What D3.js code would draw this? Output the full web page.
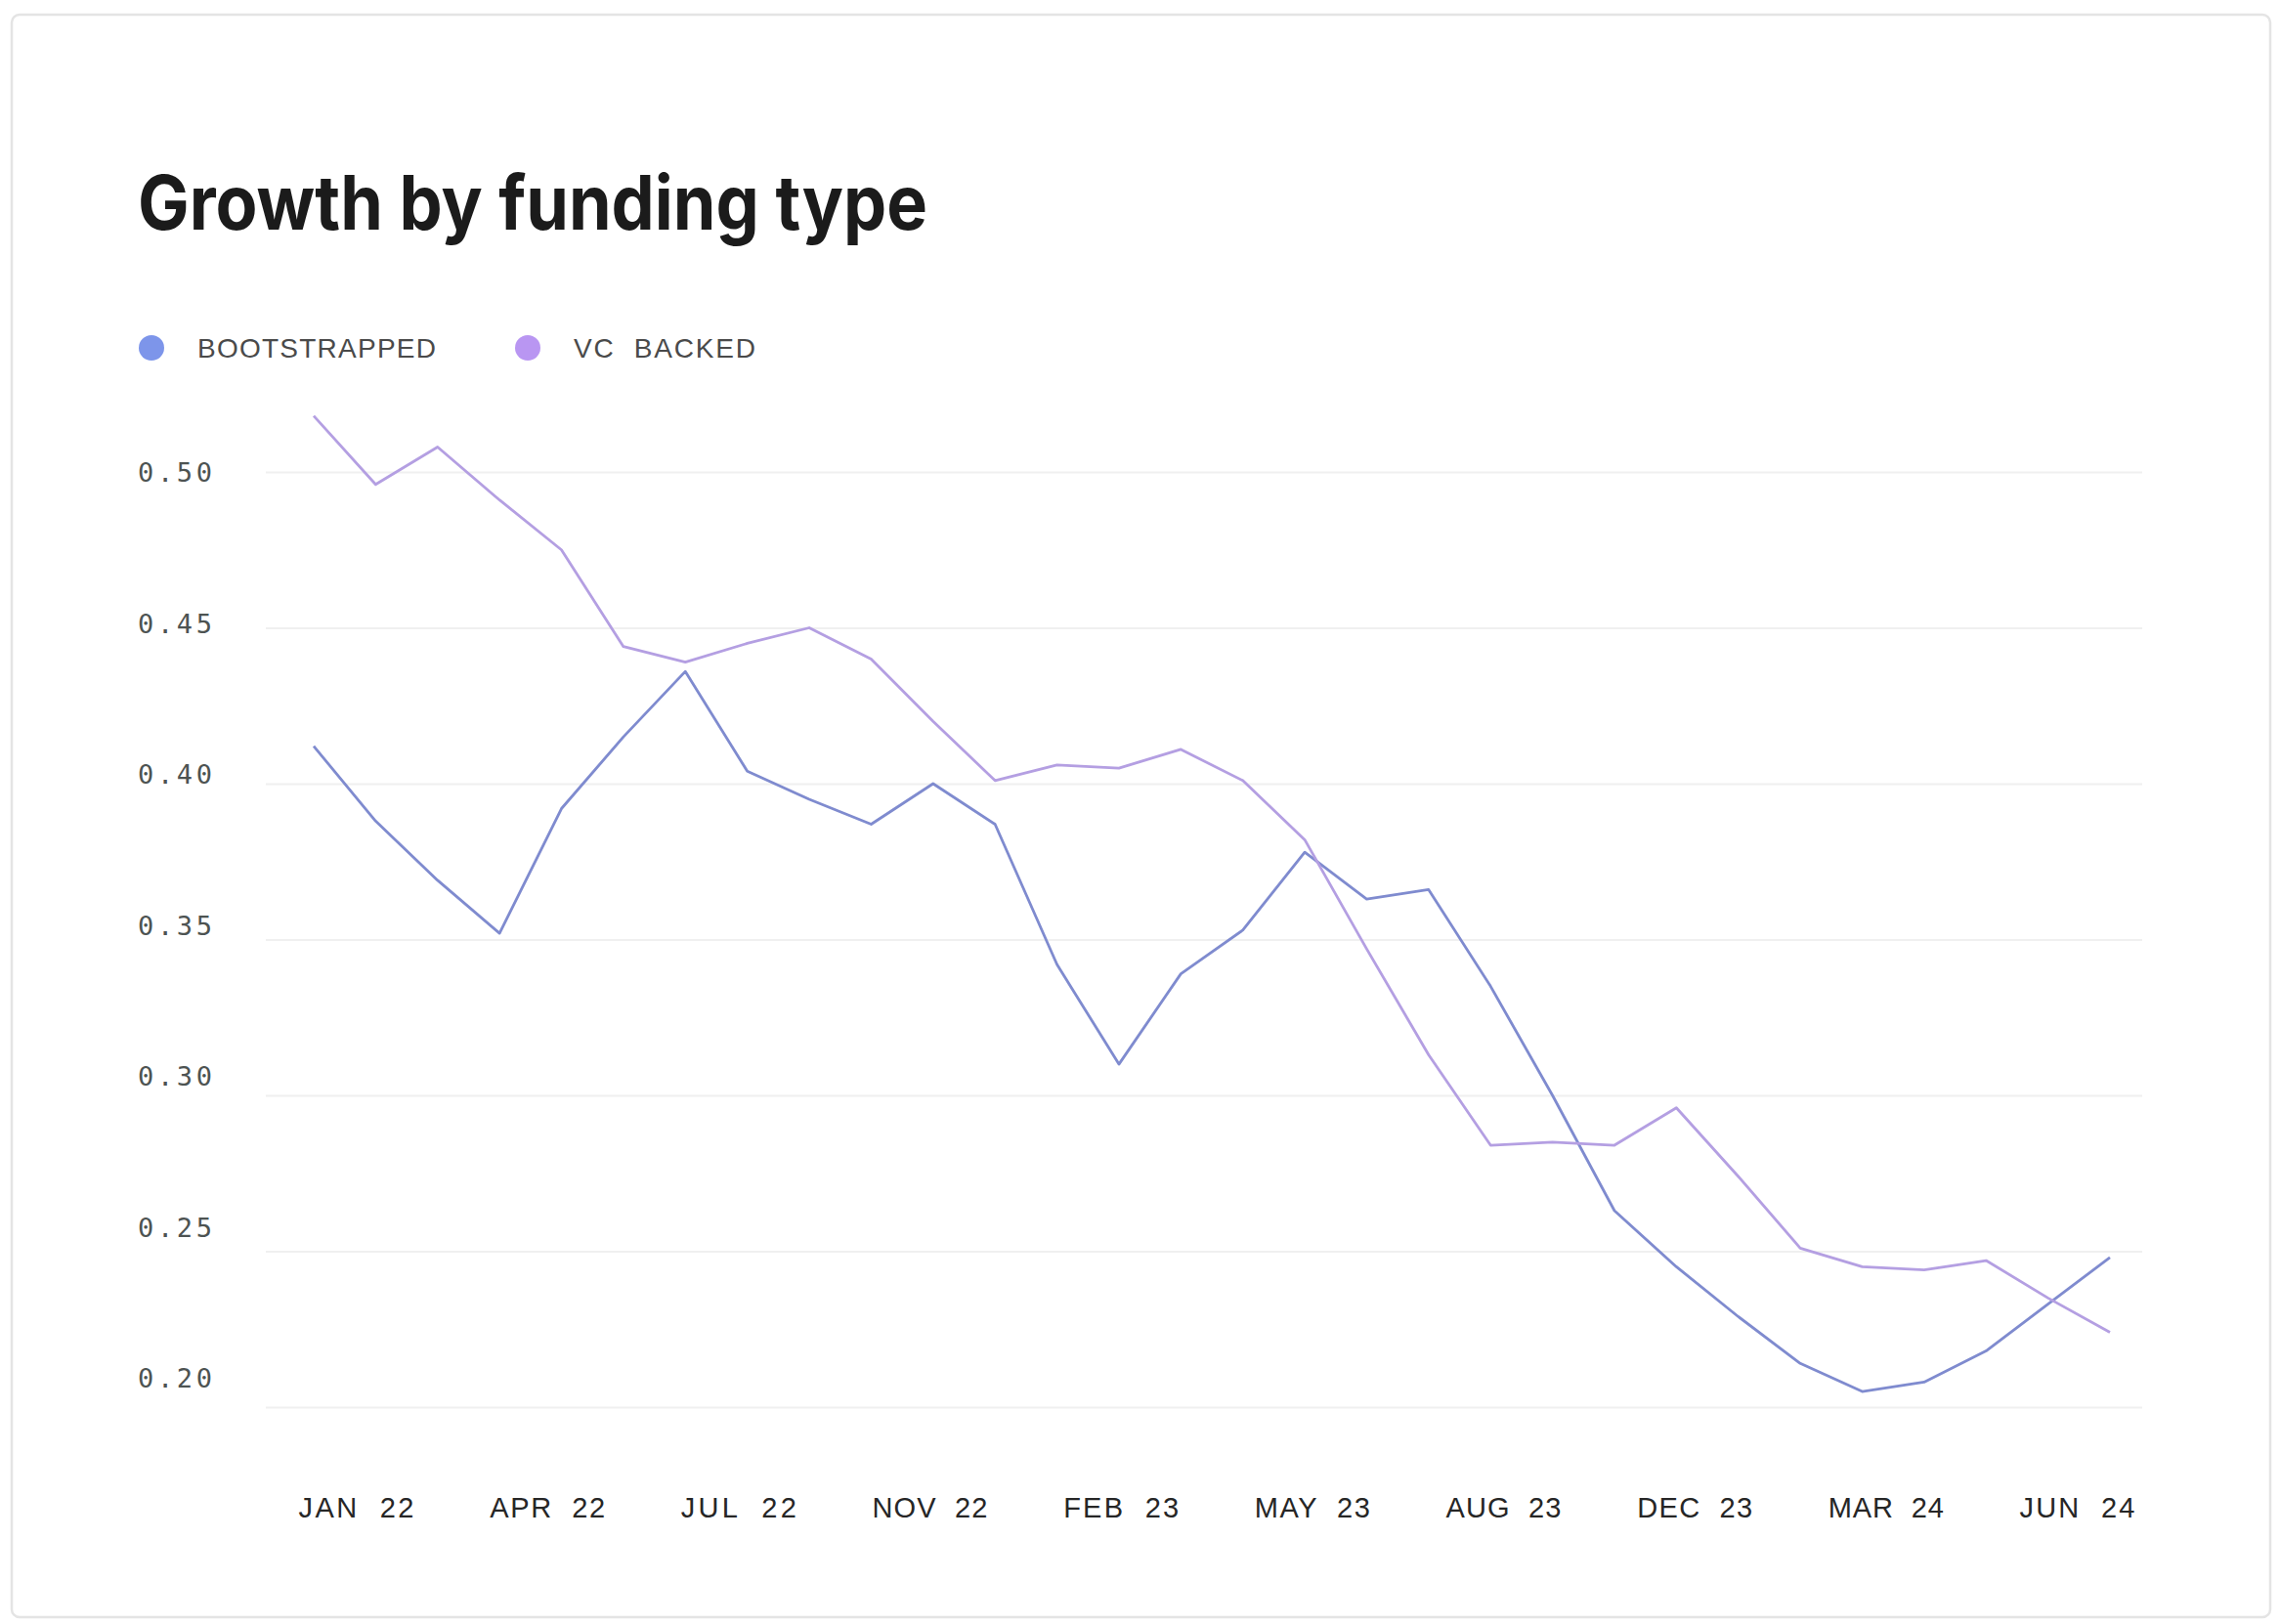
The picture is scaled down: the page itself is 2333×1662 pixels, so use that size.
<!DOCTYPE html>
<html>
<head>
<meta charset="utf-8">
<script src="https://cdn.jsdelivr.net/npm/d3@7/dist/d3.min.js"></script>
<style>
  html, body { margin: 0; padding: 0; background: #ffffff; }
  svg { display: block; }
</style>
</head>
<body>
<svg id="chart" width="2333" height="1662"></svg>
<script>
// ---- data ----
const months = [
  "Jan 22","Feb 22","Mar 22","Apr 22","May 22","Jun 22","Jul 22","Aug 22","Sep 22","Oct 22","Nov 22","Dec 22",
  "Jan 23","Feb 23","Mar 23","Apr 23","May 23","Jun 23","Jul 23","Aug 23","Sep 23","Oct 23","Nov 23","Dec 23",
  "Jan 24","Feb 24","Mar 24","Apr 24","May 24","Jun 24"
];
const bootstrapped = [
  0.412, 0.388, 0.369, 0.352, 0.392, 0.415, 0.436, 0.404, 0.395, 0.387, 0.400, 0.387,
  0.342, 0.310, 0.339, 0.353, 0.378, 0.363, 0.366, 0.335, 0.300, 0.263, 0.245, 0.229,
  0.214, 0.205, 0.208, 0.218, 0.233, 0.248
];
const vcBacked = [
  0.518, 0.496, 0.508, 0.491, 0.475, 0.444, 0.439, 0.445, 0.450, 0.440, 0.420, 0.401,
  0.406, 0.405, 0.411, 0.401, 0.382, 0.347, 0.313, 0.284, 0.285, 0.284, 0.296, 0.274,
  0.251, 0.245, 0.244, 0.247, 0.235, 0.224
];
const xTickLabels = ["JAN  22","APR  22","JUL  22","NOV  22","FEB  23","MAY  23","AUG  23","DEC  23","MAR  24","JUN  24"];
const yTicks = [0.20, 0.25, 0.30, 0.35, 0.40, 0.45, 0.50];
const seriesNames = ["BOOTSTRAPPED", "VC  BACKED"];
const title = "Growth by funding type";

// ---- drawing ----
const svg = d3.select("#chart");
const mono = "'DejaVu Sans Mono', 'Liberation Mono', monospace";
const sans = "'Liberation Sans', Arial, sans-serif";

// card
svg.append("rect")
  .attr("x", 12).attr("y", 15).attr("width", 2311).attr("height", 1640)
  .attr("rx", 8).attr("fill", "#ffffff")
  .attr("stroke", "#e4e4e4").attr("stroke-width", 2.5);

// title
svg.append("text")
  .attr("x", 141).attr("y", 235)
  .attr("font-family", "Inter, 'Noto Sans', sans-serif")
  .attr("font-weight", 700)
  .attr("font-size", 77)
  .attr("fill", "#1b1b1b")
  .attr("textLength", 808)
  .attr("lengthAdjust", "spacingAndGlyphs")
  .text(title);

// scales
const gridLeft = 272, gridRight = 2192;
const x = d3.scalePoint().domain(months).range([321, 2159]);
const y = d3.scaleLinear().domain([0.20, 0.50]).range([1440, 483]);
const yLabel = d3.scaleLinear().domain([0.20, 0.50]).range([1411, 484]);
const xLabel = d3.scalePoint().domain(xTickLabels).range([364, 2125]);
const color = d3.scaleOrdinal().domain(seriesNames).range(["#7f8bcf", "#b49fe2"]);
const dotColor = d3.scaleOrdinal().domain(seriesNames).range(["#7d95ea", "#b996f2"]);

// grid
const grid = svg.append("g")
  .attr("transform", `translate(${gridLeft},0)`)
  .call(d3.axisLeft(y).tickValues(yTicks).tickSize(-(gridRight - gridLeft)).tickFormat(""));
grid.select(".domain").remove();
grid.selectAll("line").attr("stroke", "#f0f0f0").attr("stroke-width", 2);

// y labels
const yAx = svg.append("g")
  .attr("transform", "translate(217,0)")
  .call(d3.axisLeft(yLabel).tickValues(yTicks).tickSize(0).tickPadding(0).tickFormat(d3.format(".2f")));
yAx.select(".domain").remove();
yAx.selectAll("text")
  .attr("font-family", mono)
  .attr("font-size", 27)
  .attr("fill", "#4d5352")
  .attr("text-anchor", "start")
  .attr("x", -76)
  .attr("textLength", 76)
  .attr("lengthAdjust", "spacing");

// x labels
const xAx = svg.append("g")
  .attr("transform", "translate(0,1532)")
  .call(d3.axisBottom(xLabel).tickSize(0).tickPadding(0));
xAx.select(".domain").remove();
xAx.selectAll("text")
  .attr("font-family", sans)
  .attr("font-size", 29)
  .attr("fill", "#262626")
  .attr("textLength", 118)
  .attr("lengthAdjust", "spacing")
  .attr("x", -59)
  .attr("text-anchor", "start")
  .style("white-space", "pre");

// lines
const line = d3.line().x((d, i) => x(months[i])).y(d => y(d));
const series = [
  { name: seriesNames[0], values: bootstrapped },
  { name: seriesNames[1], values: vcBacked }
];
svg.append("g").selectAll("path")
  .data(series)
  .join("path")
  .attr("d", d => line(d.values))
  .attr("fill", "none")
  .attr("stroke", d => color(d.name))
  .attr("stroke-width", 2.8)
  .attr("stroke-linejoin", "round");

// legend
const legendX = d3.scaleOrdinal().domain(seriesNames).range([155, 540]);
const legendW = d3.scaleOrdinal().domain(seriesNames).range([244, 186]);
const lg = svg.append("g").selectAll("g")
  .data(seriesNames)
  .join("g")
  .attr("transform", d => `translate(${legendX(d)},356)`);
lg.append("circle").attr("r", 13).attr("fill", d => dotColor(d));
lg.append("text")
  .attr("x", 47)
  .attr("dy", "0.36em")
  .attr("font-family", sans)
  .attr("font-size", 28)
  .attr("fill", "#4a4a4a")
  .attr("textLength", d => legendW(d))
  .attr("lengthAdjust", "spacing")
  .style("white-space", "pre")
  .text(d => d);
</script>
</body>
</html>
